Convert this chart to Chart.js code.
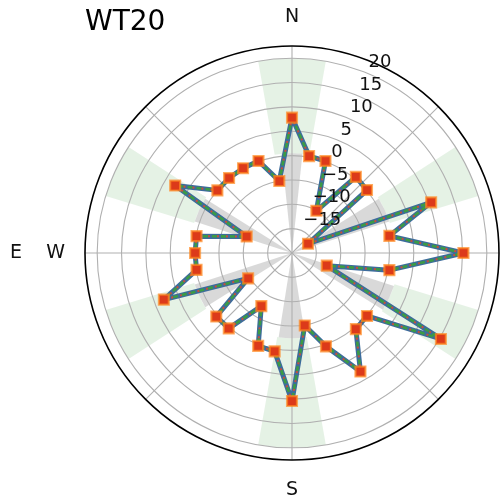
<!DOCTYPE html>
<html><head><meta charset="utf-8">
<script src="https://cdn.jsdelivr.net/npm/chart.js@4/dist/chart.umd.min.js"></script>
<style>html,body{margin:0;padding:0;background:#fff}#wrap{width:500px;height:501px}</style>
</head><body><div id="wrap"><canvas id="c" width="500" height="501"></canvas></div>
<script>
// ---- data ----
const chartTitle = 'WT20';
const directionAngles = [0,10,20,30,40,50,60,70,80,90,100,110,120,130,140,150,160,170,
                         180,190,200,210,220,230,240,250,260,270,280,290,300,310,320,330,340,350];
const directionValues = [7.8,0.2,0.1,-10,0.4,0.1,-16.2,10.4,0.3,15.2,0.3,-12.4,15.3,0.1,0.4,8.1,0.4,-4.9,
                         10.4,0.5,0.3,-7.4,0.2,0.3,-9.6,8.0,-0.1,-0.1,-0.1,-10.1,7.7,0.0,0.1,0.1,0.1,-5.0];
const compassTickAngles = [0, 180, 270];
const compassTickLabels = ['N', 'S', 'E    W'];
const radialTickValues = [-15,-10,-5,0,5,10,15,20];
const radialMin = -20, radialMax = 22.5, radialStep = 5;
const angleResolution = 5;      // degrees per category slot
const gridAngleStep = 45;       // angular grid every 45 degrees
const radialLabelAngle = 22.5;
// shaded sectors
const sectorCenters   = [0, 65, 115, 180, 245, 295];
const greenHalfWidths = [10, 8, 8, 10, 8, 8];
const grayHalfWidths  = [6, 7, 7, 9, 7, 7];
const sectorSplit     = [0.5, 1, 2, -2.5, 1, 1];
const sectorTop       = 20;

// ---- build category table for the radial scale ----
const slotCount = 360 / angleResolution;
const slotLabels = Array.from({length: slotCount}, (_, i) => {
  const k = compassTickAngles.indexOf(i * angleResolution);
  return k >= 0 ? compassTickLabels[k] : '';
});
const slotValues = Array(slotCount).fill(null);
directionAngles.forEach((a, k) => { slotValues[Math.round(a / angleResolution)] = directionValues[k]; });

const FONT = "'DejaVu Sans', 'Liberation Sans', sans-serif";
const toRad = d => d * Math.PI / 180;

const decor = {
  id: 'decor',
  beforeDraw(chart) {
    const s = chart.scales.r, ctx = chart.ctx;
    const cx = s.xCenter, cy = s.yCenter;
    ctx.save();
    sectorCenters.forEach((c, k) => {
      const rIn = s.getDistanceFromCenterForValue(sectorSplit[k]);
      const rOut = s.getDistanceFromCenterForValue(sectorTop);
      let a0 = toRad(c - greenHalfWidths[k] - 90), a1 = toRad(c + greenHalfWidths[k] - 90);
      ctx.beginPath();
      ctx.arc(cx, cy, rOut, a0, a1);
      ctx.arc(cx, cy, rIn, a1, a0, true);
      ctx.closePath();
      ctx.fillStyle = 'rgba(0,128,0,0.1)';
      ctx.fill();
      a0 = toRad(c - grayHalfWidths[k] - 90); a1 = toRad(c + grayHalfWidths[k] - 90);
      ctx.beginPath();
      ctx.moveTo(cx, cy);
      ctx.arc(cx, cy, rIn, a0, a1);
      ctx.closePath();
      ctx.fillStyle = 'rgba(128,128,128,0.3)';
      ctx.fill();
    });
    ctx.restore();
  },
  afterDraw(chart) {
    const s = chart.scales.r, ctx = chart.ctx;
    const cx = s.xCenter, cy = s.yCenter;
    ctx.save();
    // outer spine
    ctx.beginPath();
    ctx.arc(cx, cy, s.getDistanceFromCenterForValue(s.max), 0, Math.PI * 2);
    ctx.strokeStyle = '#000';
    ctx.lineWidth = 1.6;
    ctx.stroke();
    // radial tick labels
    ctx.fillStyle = '#111';
    ctx.font = '18px ' + FONT;
    ctx.textAlign = 'left';
    ctx.textBaseline = 'alphabetic';
    const th = toRad(radialLabelAngle);
    radialTickValues.forEach(v => {
      const d = s.getDistanceFromCenterForValue(v);
      const txt = v < 0 ? '\u2212' + Math.abs(v) : String(v);
      ctx.fillText(txt, cx + d * Math.sin(th) + 2, cy - d * Math.cos(th) - 6);
    });
    // compass labels
    ctx.font = '19px ' + FONT;
    const D = s.drawingArea;
    slotLabels.forEach((lab, i) => {
      if (!lab) return;
      const deg = i * angleResolution;
      if (deg === 0) {
        const p = s.getPointPosition(i, D + 24);
        ctx.textAlign = 'center'; ctx.textBaseline = 'alphabetic';
        ctx.fillText(lab, p.x, p.y);
      } else if (deg === 180) {
        const p = s.getPointPosition(i, D + 35);
        ctx.textAlign = 'center'; ctx.textBaseline = 'alphabetic';
        ctx.fillText(lab, p.x, p.y);
      } else {
        const p = s.getPointPosition(i, D + 20);
        ctx.textAlign = deg > 180 ? 'right' : 'left'; ctx.textBaseline = 'middle';
        ctx.fillText(lab, p.x, p.y);
      }
    });
    ctx.restore();
  }
};

const lineBase = { data: slotValues, spanGaps: true, fill: false, pointRadius: 0, tension: 0,
                   borderJoinStyle: 'round', borderCapStyle: 'round' };

new Chart(document.getElementById('c'), {
  type: 'radar',
  data: {
    labels: slotLabels,
    datasets: [
      { data: slotValues, showLine: false, fill: false, spanGaps: true, order: 0,
        pointStyle: 'rect', pointRadius: 7, pointBorderWidth: 2.2,
        pointBackgroundColor: '#dc3a1a', pointBorderColor: 'rgba(255,135,30,0.7)' },
      Object.assign({}, lineBase, { order: 1, borderColor: '#c8503a', borderWidth: 2, borderDash: [2, 7], borderDashOffset: 4, borderCapStyle: 'butt' }),
      Object.assign({}, lineBase, { order: 2, borderColor: '#3c9b45', borderWidth: 2.6, borderDash: [5, 4], borderCapStyle: 'butt' }),
      Object.assign({}, lineBase, { order: 3, borderColor: '#3d6c9c', borderWidth: 5 })
    ]
  },
  options: {
    responsive: false,
    devicePixelRatio: 1,
    animation: false,
    events: [],
    layout: { padding: { left: 85, right: 1, top: 0, bottom: 41 } },
    plugins: {
      legend: { display: false },
      tooltip: { enabled: false },
      title: { display: true, text: chartTitle, align: 'start', color: '#000',
               font: { family: FONT, size: 28, weight: 'normal', lineHeight: 1.2 },
               padding: { top: 6.2, bottom: 6.2 } }
    },
    scales: {
      r: {
        min: radialMin, max: radialMax, startAngle: 0,
        ticks: { stepSize: radialStep, display: false, includeBounds: false, showLabelBackdrop: false },
        grid: { circular: true, lineWidth: 1.1,
                color: c => (c.tick && c.tick.value <= radialMin) ? 'rgba(0,0,0,0)' : '#b0b0b0' },
        angleLines: { display: true, color: '#b0b0b0',
                      lineWidth: c => ((c.index * angleResolution) % gridAngleStep === 0) ? 1.1 : 0 },
        pointLabels: { display: false }
      }
    }
  },
  plugins: [decor]
});
</script></body></html>
